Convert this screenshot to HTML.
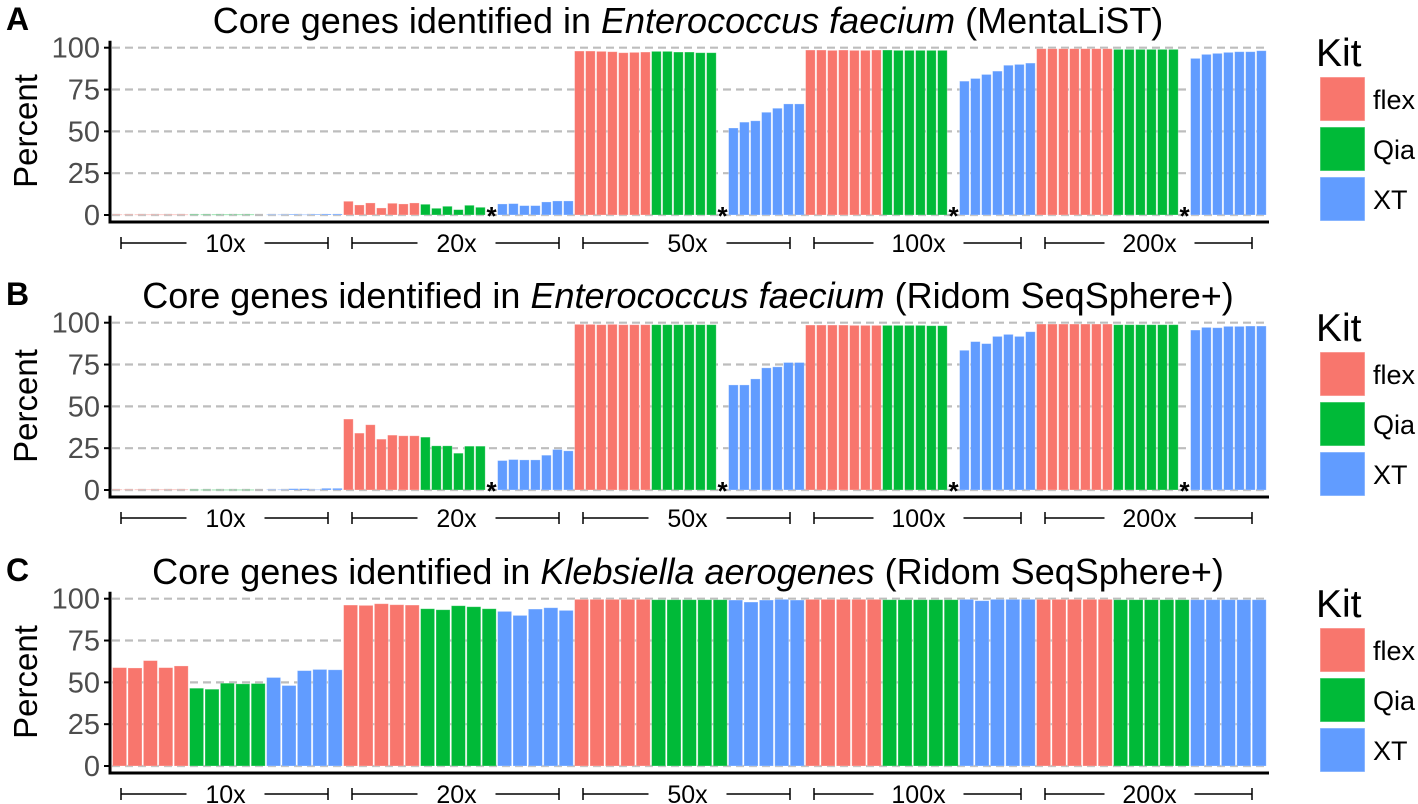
<!DOCTYPE html>
<html><head><meta charset="utf-8">
<style>
html,body{margin:0;padding:0;background:#fff;}
svg{display:block;font-family:"Liberation Sans",Arial,sans-serif;}
</style></head>
<body>
<svg id="fig" width="1418" height="804" viewBox="0 0 1418 804" xmlns="http://www.w3.org/2000/svg"></svg>
<script>
const coverages = ["10x","20x","50x","100x","200x"];
const kits = ["flex","Qia","XT"];
const kitColors = ["#F8766D","#00BA38","#619CFF"];
const yTicks = [0,25,50,75,100];

// Panel A (MentaLiST): per coverage, flex / Qia / XT values
const aFlex = [[0.3,0.3,0.3,0.3,0.3,0.3,0.3],[8.2,6,7.2,4.2,7,6.6,7.2],[98,98,97.8,97.6,97,97.2,97.4],[98.6,98.6,98.4,98.6,98.4,98.4,98.6],[99.4,99.4,99.4,99.4,99.4,99.4,99.4]];
const aQia = [[0.3,0.3,0.3,0.3,0.3,0.3],[6.4,4,5.2,3.2,5.8,4.6],[97.8,97.8,97.4,97.4,97,97],[98.6,98.4,98.4,98.4,98.4,98.4],[99,99,99,99,99,99]];
const aXT = [[0.3,0.3,0.5,0.3,0.5,0.6,0.6],[6.6,6.8,5.6,5.6,7.8,8.4,8.4],[52,55.5,56.3,61.4,63.8,66.4,66.4],[80,81.6,84,86,89.5,90,90.8],[93.6,96,96.6,97.2,97.6,97.6,98.2]];
const aStars = [false,true,true,true,true];

// Panel B (Ridom SeqSphere+, E. faecium)
const bFlex = [[0.3,0.3,0.3,0.3,0.3,0.3,0.3],[42.4,34,39,30.4,32.8,32.4,32.4],[99,99,98.8,99,98.8,98.8,98.8],[98.6,98.6,98.6,98.6,98.4,98.4,98.4],[99.2,99.2,99.2,99.2,99.2,99.2,99.2]];
const bQia = [[0.2,0.2,0.2,0.2,0.2,0.2],[31.6,26.4,26.4,22,26.2,26.2],[98.8,98.8,98.8,98.8,98.8,98.8],[98.4,98.4,98.4,98.4,98.2,98.2],[98.8,98.8,98.8,98.8,98.8,98.8]];
const bXT = [[0.3,0.3,0.8,0.8,0.3,1,1],[17.6,18.2,18,18,20.8,24.2,23.4],[62.8,62.8,66.4,73,73.6,76.2,76.2],[83.5,88.7,87.5,91.8,93,91.8,94.6],[95.6,97.2,97,97.8,97.8,98,98]];
const bStars = [false,true,true,true,true];

// Panel C (Ridom SeqSphere+, K. aerogenes)
const cFlex = [[58.8,58.6,63,58.8,59.8],[96.2,96,97,96.4,96.2],[99.6,99.6,99.6,99.6,99.6],[99.6,99.6,99.6,99.6,99.6],[99.6,99.6,99.6,99.6,99.6]];
const cQia = [[46.5,45.9,49.5,49.1,49.3],[94,93.4,95.8,95.2,94],[99.4,99.4,99.4,99.4,99.4],[99.4,99.4,99.4,99.4,99.4],[99.4,99.4,99.4,99.4,99.4]];
const cXT = [[52.9,48.1,57,57.7,57.5],[92.4,90,93.8,94.6,93],[99.2,98,99.2,99.6,99.2],[99.6,98.8,99.6,99.6,99.6],[99.4,99.4,99.4,99.4,99.4]];
const cStars = [false,false,false,false,false];

const NS = "http://www.w3.org/2000/svg";
const svg = document.getElementById("fig");
function mk(tag, attrs, parent){
  const e = document.createElementNS(NS, tag);
  for (const k in attrs) e.setAttribute(k, attrs[k]);
  (parent||svg).appendChild(e);
  return e;
}

const X0 = 112, X1 = 1267;

function panel(letter, titlePre, titleIt, titlePost, off, flex, qia, xt, stars, slotsPerGroup){
  const g = mk("g", {});
  
  
  const yTop = 47.7 + off, yZero = 215 + off;
  const yScale = v => yZero - (yZero - yTop) * v / 100;
  const groupW = (X1 - X0) / coverages.length;
  const slotW = groupW / slotsPerGroup;
  const xSlot = (gi, si) => X0 + gi * groupW + si * slotW;

  const pl = mk("text", {x:6, y:30+off, "font-size":32, "font-weight":"bold", fill:"#000"}, g);
  pl.textContent = letter;
  
  

  const t = mk("text", {x:688, y:33+off, "font-size":36, "text-anchor":"middle", fill:"#000"}, g);
  
  
  const s1 = mk("tspan", {}, t); s1.textContent = titlePre;
  const s2 = mk("tspan", {"font-style":"italic"}, t); s2.textContent = titleIt;
  const s3 = mk("tspan", {}, t); s3.textContent = titlePost;

  yTicks.forEach(v => {
    const y = yScale(v);
    const gl = mk("line", {x1:X0, x2:X1+2, y1:y, y2:y, stroke:"#bdbdbd", "stroke-width":2.2, "stroke-dasharray":"8,5"}, g);
    
    
    mk("line", {x1:104, x2:110, y1:y, y2:y, stroke:"#000", "stroke-width":2}, g);
    const tl = mk("text", {x:100, y:y+10, "font-size":29, "text-anchor":"end", fill:"#4d4d4d"}, g);
    tl.textContent = v;
    
    
  });

  const yt = mk("text", {x:0, y:0, "font-size":33, "text-anchor":"middle", fill:"#000",
    transform:"translate(37," + (131+off) + ") rotate(-90)"}, g);
  yt.textContent = "Percent";
  
  

  const series = [flex, qia, xt];
  coverages.forEach((cov, gi) => {
    let si = 0;
    series.forEach((ser, ki) => {
      ser[gi].forEach(v => {
        const x = xSlot(gi, si);
        const y = yScale(v);
        const r = mk("rect", {x:x+0.6, y:y, width:slotW-1.4, height:Math.max(yZero - y, 0.6),
          fill:kitColors[ki], stroke:"rgba(255,255,255,0.35)", "stroke-width":0.8}, g);
        
        
        si++;
      });
      if (ki === 1 && ser[gi].length < flex[gi].length) {
        if (stars[gi]) {
          const st = mk("text", {x:xSlot(gi, si)+slotW/2, y:yZero+10, "font-size":26, "font-weight":"bold", "text-anchor":"middle", fill:"#000"}, g);
          st.textContent = "*";
          
          
        }
        si++;
      }
    });

    const gx0 = X0 + gi * groupW + 9, gx1 = X0 + (gi+1) * groupW - 15;
    const cx = (gx0 + gx1) / 2, ly = 243 + off;
    const hw = cov.length > 3 ? 34 : 28;
    const br = mk("g", {}, g);
    
    
    mk("line", {x1:gx0, x2:cx-hw-10, y1:ly, y2:ly, stroke:"#000", "stroke-width":1.5}, br);
    mk("line", {x1:cx+hw+12, x2:gx1, y1:ly, y2:ly, stroke:"#000", "stroke-width":1.5}, br);
    mk("line", {x1:gx0, x2:gx0, y1:ly-6, y2:ly+6, stroke:"#000", "stroke-width":1.5}, br);
    mk("line", {x1:gx1, x2:gx1, y1:ly-6, y2:ly+6, stroke:"#000", "stroke-width":1.5}, br);
    const lt = mk("text", {x:cx+1, y:ly+9, "font-size":25, "text-anchor":"middle", fill:"#000"}, br);
    lt.textContent = cov;
    
    
  });

  const ya = mk("line", {x1:110, x2:110, y1:yTop-7, y2:223+off, stroke:"#000", "stroke-width":3}, g);
  
  
  const xa = mk("line", {x1:108.5, x2:X1+2, y1:222+off, y2:222+off, stroke:"#000", "stroke-width":3}, g);
  
  

  const lg = mk("g", {}, g);
  
  
  const kt = mk("text", {x:1316, y:66+off, "font-size":39, fill:"#000"}, lg);
  kt.textContent = "Kit";
  
  
  kits.forEach((k, ki) => {
    const ky = 77 + off + ki * 50;
    const e = mk("g", {}, lg);
    
    
    mk("rect", {x:1320, y:ky, width:45, height:44, fill:kitColors[ki], stroke:"rgba(255,255,255,0.5)", "stroke-width":1}, e);
    const lt = mk("text", {x:1373, y:ky+32, "font-size":27, fill:"#000"}, e);
    lt.textContent = k;
  });
}

panel("A", "Core genes identified in ", "Enterococcus faecium", " (MentaLiST)", 0, aFlex, aQia, aXT, aStars, 21);
panel("B", "Core genes identified in ", "Enterococcus faecium", " (Ridom SeqSphere+)", 275, bFlex, bQia, bXT, bStars, 21);
panel("C", "Core genes identified in ", "Klebsiella aerogenes", " (Ridom SeqSphere+)", 551, cFlex, cQia, cXT, cStars, 15);
</script>
</body></html>
